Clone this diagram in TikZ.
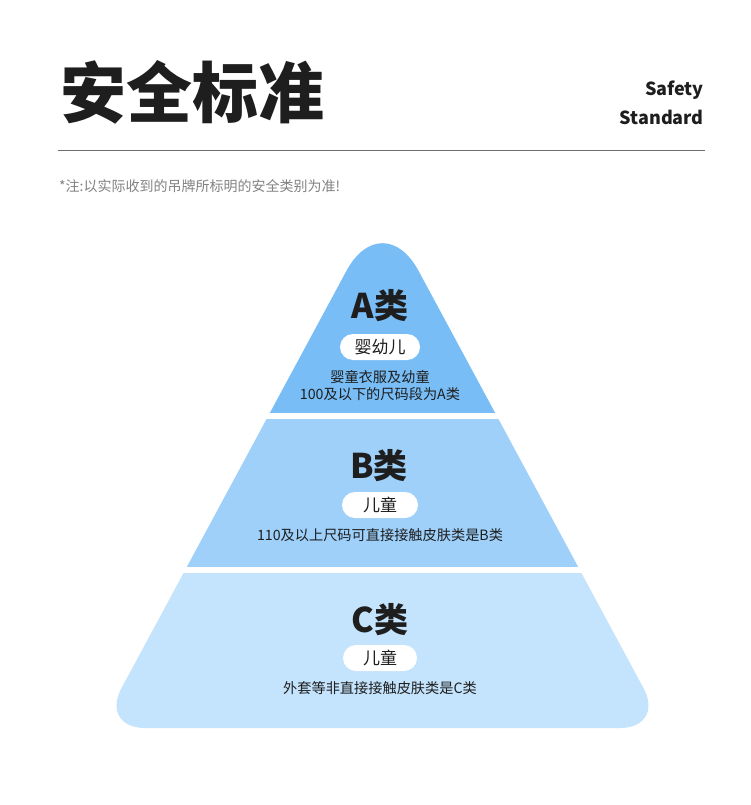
\documentclass[tikz,border=0pt]{standalone}
\usepackage{fontspec}
\setmainfont{Noto Sans CJK SC}
\newfontfamily\cjk{Noto Sans CJK SC}
\usepackage{tikz}
\usetikzlibrary{positioning}
\usepackage{xcolor}
\definecolor{safedark}{RGB}{30,30,30}
\definecolor{safegray}{RGB}{130,130,130}
\definecolor{safeline}{RGB}{110,110,110}
\definecolor{tierA}{RGB}{121,189,246}
\definecolor{tierB}{RGB}{158,208,250}
\definecolor{tierC}{RGB}{196,227,252}

\begin{document}
\begin{tikzpicture}[x=1pt,y=-1pt,
  bigtitle/.style={font=\cjk\bfseries\fontsize{66}{70}\selectfont,text=safedark,inner sep=0pt},
  entitle/.style={font=\cjk\bfseries\fontsize{18}{20}\selectfont,text=safedark,inner sep=0pt,anchor=east},
  notetext/.style={font=\cjk\fontsize{14}{16}\selectfont,text=safegray,inner sep=0pt,anchor=west},
  classname/.style={font=\cjk\bfseries\fontsize{34}{36}\selectfont,text=safedark,inner sep=0pt},
  pill/.style={fill=white,rounded corners=13pt,minimum height=26pt,inner sep=0pt,
    font=\cjk\fontsize{17}{19}\selectfont,text=safedark},
  desc/.style={font=\cjk\fontsize{14.2}{17}\selectfont,text=safedark,inner sep=0pt,align=center}]
  \useasboundingbox (0,0) rectangle (750,805);
  \fill[white] (0,0) rectangle (750,805);
  % heading
  \node[bigtitle,anchor=west] (title) at (60,92) {安全标准};
  \node[entitle] (safety) at (704,90) {Safety};
  \node[entitle] (standard) at (704,117) {Standard};
  \coordinate (ruleL) at (58,150); \coordinate (ruleR) at (705,150);
  \draw[safeline,line width=0.8pt] (ruleL) -- (ruleR);
  \node[notetext] (note) at (59,186) {*注:以实际收到的吊牌所标明的安全类别为准!};
  % pyramid
  \coordinate (apex) at (382.5,204); \coordinate (baseL) at (100,728); \coordinate (baseR) at (665,728);
  \coordinate (baseM) at (382.5,728);
  \begin{scope}
    \clip (baseM) [rounded corners=45pt] -- (baseR) [rounded corners=76pt] -- (apex)
      [rounded corners=45pt] -- (baseL) -- cycle;
    \fill[tierA] (90,190) rectangle (680,413);
    \fill[tierB] (90,419) rectangle (680,567);
    \fill[tierC] (90,573) rectangle (680,740);
  \end{scope}
  % A
  \node[classname] (clsA) at (380,306) {A类};
  \node[pill,minimum width=80pt] (pillA) at (380,347) {婴幼儿};
  \node[desc] (descA) at (380,386) {婴童衣服及幼童\\100及以下的尺码段为A类};
  % B
  \node[classname] (clsB) at (379,466) {B类};
  \node[pill,minimum width=76pt] (pillB) at (380,505) {儿童};
  \node[desc] (descB) at (380,535) {110及以上尺码可直接接触皮肤类是B类};
  % C
  \node[classname] (clsC) at (380,620) {C类};
  \node[pill,minimum width=74pt] (pillC) at (380,658) {儿童};
  \node[desc] (descC) at (380,688) {外套等非直接接触皮肤类是C类};
\end{tikzpicture}
\end{document}
